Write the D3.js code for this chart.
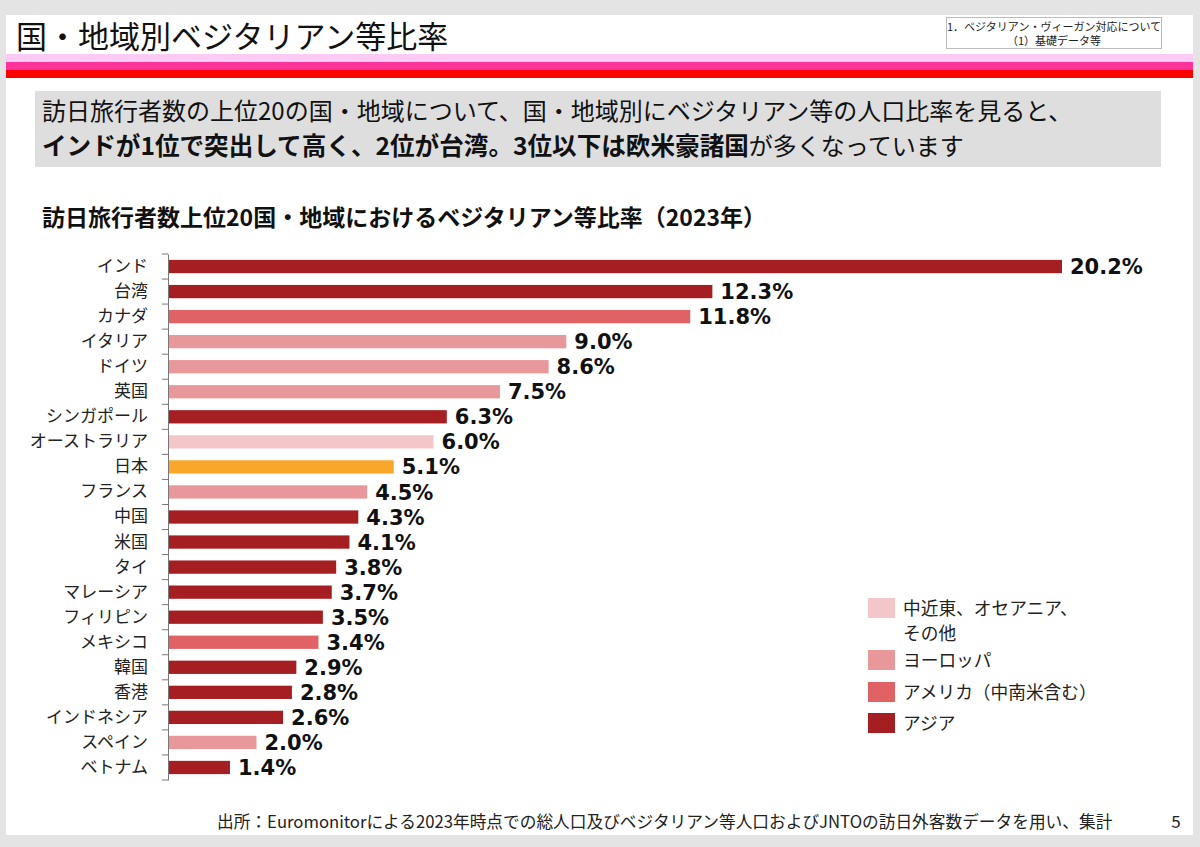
<!DOCTYPE html>
<html><head><meta charset="utf-8">
<script src="https://cdn.jsdelivr.net/npm/d3@7"></script>
<style>
html,body{margin:0;padding:0;background:#e4e4e4;}
svg{display:block;font-family:"Noto Sans CJK JP","Noto Sans",sans-serif;}
</style></head>
<body>
<svg id="c" width="1200" height="847"></svg>
<script>
const categories = ["インド","台湾","カナダ","イタリア","ドイツ","英国","シンガポール","オーストラリア","日本","フランス","中国","米国","タイ","マレーシア","フィリピン","メキシコ","韓国","香港","インドネシア","スペイン","ベトナム"];
const values = [20.2,12.3,11.8,9.0,8.6,7.5,6.3,6.0,5.1,4.5,4.3,4.1,3.8,3.7,3.5,3.4,2.9,2.8,2.6,2.0,1.4];
const groups = ["asia","asia","america","europe","europe","europe","asia","other","japan","europe","asia","asia","asia","asia","asia","america","asia","asia","asia","europe","asia"];
const legendKeys = ["other","europe","america","asia"];
const legendLabels = [["中近東、オセアニア、","その他"],["ヨーロッパ"],["アメリカ（中南米含む）"],["アジア"]];
const groupColors = {asia:"#a51e22", america:"#e06265", europe:"#e8979a", other:"#f4c6c9", japan:"#f9a72b"};

const svg = d3.select("#c");
// slide
svg.append("rect").attr("x",6).attr("y",15).attr("width",1187).attr("height",820).attr("fill","#fff");
svg.append("rect").attr("x",6).attr("y",54).attr("width",1187).attr("height",8).attr("fill","#fccaf4");
svg.append("rect").attr("x",6).attr("y",62).attr("width",1187).attr("height",8).attr("fill","#fe3399");
svg.append("rect").attr("x",6).attr("y",70).attr("width",1187).attr("height",8).attr("fill","#fe0000");
svg.append("text").attr("x",16).attr("y",48).attr("font-size",31).attr("fill","#111").text("国・地域別ベジタリアン等比率");
// top-right box
svg.append("rect").attr("x",946.5).attr("y",17.5).attr("width",215).attr("height",31).attr("fill","#fff").attr("stroke","#bbb");
svg.append("text").attr("x",1054).attr("y",31).attr("text-anchor","middle").attr("font-size",11).attr("fill","#222").text("1．ベジタリアン・ヴィーガン対応について");
svg.append("text").attr("x",1054).attr("y",45).attr("text-anchor","middle").attr("font-size",11).attr("fill","#222").text("（1）基礎データ等");
// message box
svg.append("rect").attr("x",35).attr("y",91).attr("width",1126).attr("height",76).attr("fill","#dedede");
const m1 = svg.append("text").attr("x",42).attr("y",120).attr("font-size",24).attr("fill","#111");
m1.text("訪日旅行者数の上位20の国・地域について、国・地域別にベジタリアン等の人口比率を見ると、");
const m2 = svg.append("text").attr("x",42).attr("y",155).attr("font-size",24).attr("fill","#111");
m2.append("tspan").attr("font-weight","bold").attr("font-size",24.6).text("インドが1位で突出して高く、2位が台湾。3位以下は欧米豪諸国");
m2.append("tspan").text("が多くなっています");
svg.append("text").attr("x",42).attr("y",226).attr("font-size",23).attr("font-weight","bold").attr("fill","#111").text("訪日旅行者数上位20国・地域におけるベジタリアン等比率（2023年）");

// chart
const x = d3.scaleLinear().domain([0,20.2]).range([168,1062]);
const y = d3.scaleBand().domain(categories).range([254,780]).paddingInner(0.47).paddingOuter(0.235);
const g = svg.append("g");
g.selectAll("rect.bar").data(values).join("rect").attr("class","bar")
  .attr("x",x(0)).attr("y",(d,i)=>y(categories[i]))
  .attr("width",d=>x(d)-x(0)).attr("height",y.bandwidth())
  .attr("fill",(d,i)=>groupColors[groups[i]]);
g.selectAll("text.val").data(values).join("text").attr("class","val")
  .attr("x",d=>x(d)+8).attr("y",(d,i)=>y(categories[i])+y.bandwidth()/2)
  .attr("dy","0.36em").attr("font-size",21).attr("font-weight","bold").attr("fill","#111")
  .attr("font-family","'DejaVu Sans',sans-serif")
  .text(d=>d.toFixed(1)+"%");
// axis
const ax = svg.append("g").attr("transform","translate(168,0)")
  .call(d3.axisLeft(y).tickSize(0).tickPadding(20));
ax.select(".domain").attr("stroke","#777");
ax.selectAll(".tick text").attr("font-size",17).attr("fill","#222").attr("font-family","Noto Sans CJK JP");
// boundary ticks
const step = y.step();
const bounds = d3.range(categories.length+1).map(i=>y.range()[0]+i*step);
svg.append("g").selectAll("line").data(bounds).join("line")
  .attr("x1",162).attr("x2",168).attr("y1",d=>d).attr("y2",d=>d).attr("stroke","#777");

// legend
const ly = [598,650,682,713];
const lg = svg.append("g");
legendKeys.forEach((k,i)=>{
  lg.append("rect").attr("x",868).attr("y",ly[i]).attr("width",27).attr("height",20).attr("fill",groupColors[k]);
  legendLabels[i].forEach((t,j)=>{
    lg.append("text").attr("x",903).attr("y",ly[i]+17+j*25).attr("font-size",17.7).attr("fill","#222").text(t);
  });
});
// footer
svg.append("text").attr("x",217).attr("y",828).attr("font-size",16.7).attr("fill","#222").text("出所：Euromonitorによる2023年時点での総人口及びベジタリアン等人口およびJNTOの訪日外客数データを用い、集計");
svg.append("text").attr("x",1176).attr("y",828).attr("text-anchor","middle").attr("font-size",17).attr("fill","#222").text("5");
</script>
</body></html>
